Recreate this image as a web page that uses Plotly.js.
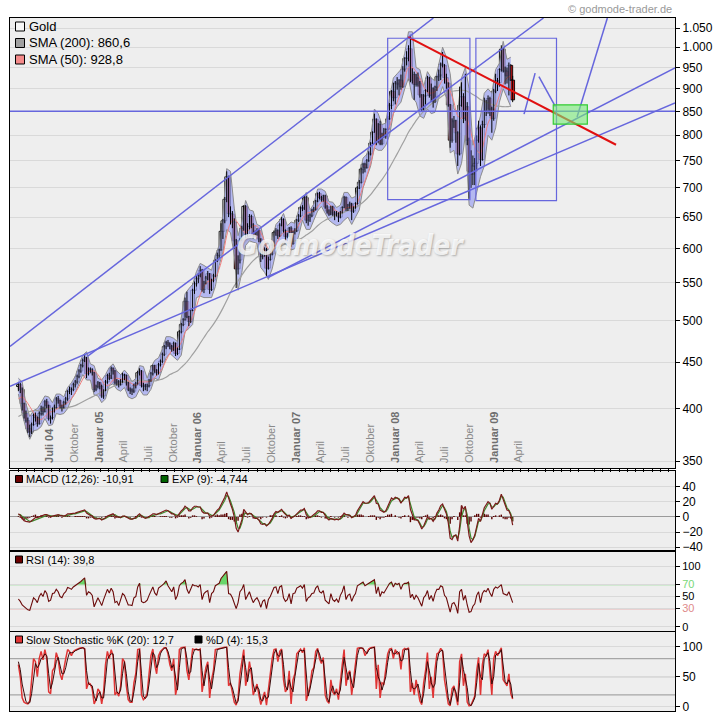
<!DOCTYPE html>
<html><head><meta charset="utf-8">
<script src="https://cdn.plot.ly/plotly-3.0.1.min.js"></script>
<style>html,body{margin:0;padding:0;background:#fff}#chart{width:720px;height:721px}</style>
</head><body><div id="chart"></div>
<script>
// ---------- DATA (weekly, starting Friday 2004-04-02) ----------
const startDate = '2004-04-02';
const open = [
423,425,420,405,395,388,380,377,384,393, 391,385,395,400,397,407,403,390,391,400,
401,410,408,403,401,406,410,418,420,420, 425,428,434,440,446,452,455,437,442,441,
438,420,423,427,423,413,419,428,435,432, 443,440,427,428,425,428,436,435,427,420,
419,418,424,426,438,440,424,423,423,424, 430,437,446,441,438,447,451,459,468,473,
471,468,465,472,460,465,486,495,501,525, 505,499,513,540,549,556,561,568,541,550,
557,563,541,554,560,582,590,598,627,644, 680,720,656,655,642,612,570,583,613,632,
668,622,635,651,637,620,625,628,615,588, 595,599,571,584,592,605,625,628,620,637,
646,628,619,621,632,608,626,628,645,652, 666,664,683,645,650,653,661,663,677,690,
683,680,686,667,660,655,667,657,654,656, 650,658,666,683,664,670,672,660,667,673,
700,710,734,743,737,750,763,784,806,833, 787,822,783,800,798,812,834,863,894,880,
913,911,920,905,946,972,973,996,920,933, 910,925,913,886,855,884,896,925,885,900,
872,904,928,932,958,955,926,913,864,790, 828,830,805,763,863,882,835,860,790,730,
725,740,745,790,815,752,822,850,850,878, 855,835,895,919,914,945,995,943,940,930,
955,920];
const high = [
428,427,422,406,398,391,384,386,395,396, 392,397,403,402,409,410,404,393,401,404,
412,413,409,404,408,412,419,423,422,427, 430,436,442,448,454,458,456,444,444,443,
439,425,429,428,425,420,430,437,438,445, 444,441,431,430,431,438,437,436,428,422,
421,426,428,440,443,441,427,426,426,431, 439,447,447,442,449,453,461,470,475,476,
473,470,474,473,467,488,497,503,530,538, 506,515,542,552,560,564,574,570,553,560,
567,564,556,563,584,594,600,640,647,684, 730,722,668,660,648,615,590,616,636,670,
670,640,655,654,640,628,632,630,616,600, 602,601,588,596,608,628,632,630,640,650,
648,630,624,634,635,628,632,647,655,668, 670,686,686,654,656,664,667,679,692,693,
686,688,688,670,663,669,669,660,660,658, 660,668,686,685,672,676,674,668,675,703,
714,737,746,746,753,768,786,808,845,835, 825,830,805,815,814,840,868,897,914,918,
927,922,933,953,975,990,1005,1032,948,940, 935,938,918,888,888,899,930,928,912,903,
907,930,945,962,988,958,935,915,866,835, 840,832,808,905,915,890,935,870,795,770,
760,755,800,830,820,830,880,875,885,882, 860,900,935,925,948,1005,998,952,950,962,
958,930];
const low = [
418,416,398,390,386,376,372,375,383,387, 382,384,393,393,396,400,388,385,389,396,
400,405,400,397,400,404,408,415,414,418, 422,426,432,438,444,450,432,435,438,435,
417,418,421,420,411,410,418,426,430,431, 436,425,424,422,424,427,430,424,418,415,
414,416,421,425,435,422,418,419,418,422, 428,435,438,435,436,445,449,457,465,468,
465,462,463,457,458,464,484,493,500,503, 493,497,512,535,545,550,558,538,536,548,
554,535,539,551,558,580,586,597,615,640, 675,650,638,632,600,543,562,578,610,628,
615,618,630,632,615,618,620,610,580,584, 588,560,569,582,590,603,620,615,618,635,
625,612,616,618,603,606,622,626,642,650, 660,662,640,636,642,650,658,661,675,680,
676,676,664,656,652,653,652,645,651,642, 648,656,665,660,660,664,645,657,664,671,
698,708,726,728,735,748,760,782,805,780, 785,780,780,795,793,810,832,855,872,865,
898,885,898,902,940,955,965,915,912,875, 905,905,880,850,852,865,892,880,870,858,
868,895,918,920,950,912,900,860,775,785, 815,785,740,760,860,825,830,780,681,700,
705,705,730,785,740,750,815,840,845,840, 805,830,890,895,905,940,938,910,912,885,
918,870];
const close = [
425,420,405,395,388,380,377,384,393,391, 385,395,400,397,407,403,390,391,400,401,
410,408,403,401,406,410,418,420,420,425, 428,434,440,446,452,455,437,442,441,438,
420,423,427,423,413,419,428,435,432,443, 440,427,428,425,428,436,435,427,420,419,
418,424,426,438,440,424,423,423,424,430, 437,446,441,438,447,451,459,468,473,471,
468,465,472,460,465,486,495,501,525,505, 499,513,540,549,556,561,568,541,550,557,
563,541,554,560,582,590,598,627,644,680, 720,656,655,642,612,570,583,613,632,668,
622,635,651,637,620,625,628,615,588,595, 599,571,584,592,605,625,628,620,637,646,
628,619,621,632,608,626,628,645,652,666, 664,683,645,650,653,661,663,677,690,683,
680,686,667,660,655,667,657,654,656,650, 658,666,683,664,670,672,660,667,673,700,
710,734,743,737,750,763,784,806,833,787, 822,783,800,798,812,834,863,894,880,913,
911,920,905,946,972,973,996,920,933,910, 925,913,886,855,884,896,925,885,900,872,
904,928,932,958,955,926,913,864,790,828, 830,805,763,863,882,835,860,790,730,725,
740,745,790,815,752,822,850,850,878,855, 835,895,919,914,945,995,943,940,930,955,
920,875];
// every second week
const sma50 = [
410,412,408,402,396,390,389,392,396,397, 399,402,404,406,410,416,423,431,437,440,
440,436,430,424,425,430,432,431,431,429, 426,424,428,428,428,429,433,437,443,452,
460,466,467,473,485,494,505,518,534,545, 552,553,558,570,590,620,640,646,640,630,
625,630,636,635,625,612,600,598,606,618, 625,627,627,628,637,648,656,658,660,667,
675,677,672,665,660,657,663,666,667,669, 682,702,722,745,775,795,800,805,818,845,
870,893,920,950,950,940,925,905,892,890, 893,905,920,925,895,870,840,835,840,820,
790,770,765,790,825,840,860,885,910,925, 930];
const sma200 = [
392,394,396,397,398,398,399,400,400,400, 400,400,400,401,402,403,405,407,409,411,
413,415,417,419,421,423,425,427,428,429, 429,429,430,430,429,429,429,430,431,433,
436,438,440,444,448,453,459,465,472,479, 486,492,499,507,516,526,537,546,553,561,
569,576,582,587,591,594,596,598,601,603, 606,608,610,612,614,617,621,625,630,636,
641,645,648,651,653,655,658,661,663,666, 670,675,681,688,697,706,715,725,737,750,
763,777,791,806,818,830,841,850,858,866, 872,878,884,890,893,895,896,897,896,892,
887,882,876,872,868,865,862,861,860,860, 861];
const bandHi = [
432,428,405,392,398,400,406,413,412,406, 415,415,412,422,427,434,447,458,462,448,
446,432,430,436,444,448,440,436,441,436, 428,432,446,445,432,444,452,455,465,480,
480,478,474,502,535,542,548,566,578,575, 572,568,590,605,655,735,730,665,620,642,
678,662,660,638,635,608,595,614,638,645, 656,636,642,640,662,678,692,662,672,698,
698,694,676,675,666,670,692,692,682,685, 722,755,762,795,855,845,822,825,880,925,
935,945,985,1040,1040,950,945,905,940,925, 918,955,1000,975,935,855,850,925,950,900,
780,810,840,890,900,890,945,960,1015,970, 975];
const bandLo = [
415,395,380,370,378,379,382,390,383,384, 395,394,395,400,410,416,426,436,430,430,
414,413,406,410,424,426,420,418,422,412, 410,412,420,414,414,420,432,430,442,455,
460,456,452,458,486,490,495,530,532,530, 530,530,545,575,595,630,625,590,540,565,
605,612,610,608,572,565,555,570,595,605, 610,605,598,600,620,645,630,630,645,660,
668,655,645,640,636,638,645,650,638,650, 662,700,720,740,775,770,770,780,800,845,
860,870,900,925,880,870,840,835,855,845, 848,880,905,880,765,770,725,745,800,670,
665,690,720,740,800,790,815,870,900,880, 860];
const macd = [
4,2,-2,-5,-6,-7,-7,-5,-3,-1, -1,0,2,2,3,3,1,0,1,2, 3,3,2,1,1,2,4,4,4,4, 5,6,7,8,9,9,5,3,2,1,
-2,-3,-2,-2,-4,-3,-1,1,2,4, 4,1,0,-1,-1,1,1,0,-2,-3, -3,-2,-1,2,4,1,-1,-2,-1,0, 2,4,4,3,4,5,6,8,9,8,
6,4,4,1,1,5,8,10,14,12, 8,8,12,14,14,13,13,7,5,5, 5,1,1,2,6,9,11,16,20,26, 33,24,17,10,0,-15,-20,-12,-4,10,
6,3,5,4,0,-2,-2,-4,-9,-10, -9,-12,-10,-6,-2,4,7,6,8,10, 6,3,1,2,-2,0,1,4,7,9, 9,11,3,0,-1,1,2,5,8,8,
6,6,2,-2,-4,-2,-3,-4,-3,-4, -2,1,5,3,2,2,-1,0,2,8, 12,17,20,18,18,19,22,25,28,18, 17,9,8,6,8,13,19,25,23,26,
25,23,18,22,26,25,28,10,4,-4, -4,-5,-10,-16,-12,-7,0,-3,-2,-6, -2,5,9,15,17,10,4,-8,-28,-30,
-25,-24,-32,-12,15,10,14,-6,-25,-34, -30,-24,-12,-2,-6,2,12,16,20,18, 10,14,18,17,22,30,24,16,9,8, 2,-11];
const signal = [
3,3,1,-1,-3,-5,-6,-6,-5,-4, -2,-1,0,1,2,2,2,1,1,1, 2,2,2,2,1,1,2,3,4,4, 4,5,6,7,8,8,7,5,3,2,
0,-2,-2,-2,-3,-3,-2,0,1,2, 3,3,1,0,-1,0,1,0,-1,-2, -3,-2,-2,0,2,2,0,-1,-1,-1, 1,2,3,3,4,4,5,7,8,8,
7,5,4,3,2,3,6,8,11,12, 10,9,10,12,13,13,13,10,7,5, 5,3,2,2,4,6,9,13,17,22, 28,27,21,14,6,-6,-15,-15,-8,3,
5,4,4,4,2,0,-1,-3,-6,-9, -9,-11,-10,-8,-4,1,5,6,7,8, 7,5,2,2,0,0,1,3,5,7, 8,10,6,2,0,0,1,3,6,7,
7,6,4,0,-2,-3,-3,-3,-3,-3, -3,-1,2,3,3,2,0,0,1,5, 9,14,18,18,18,18,20,23,26,22, 18,12,9,7,7,10,16,21,23,24,
25,24,20,21,24,25,26,17,8,0, -3,-4,-8,-13,-13,-9,-3,-2,-2,-4, -3,2,7,12,15,12,7,-3,-19,-27,
-26,-24,-28,-18,0,8,12,3,-15,-28, -30,-26,-16,-6,-5,0,8,13,17,18, 13,13,16,17,20,27,26,19,12,9, 4,-5];
const hist = [
1,-1,-3,-4,-3,-2,-1,1,2,3, 1,1,2,1,1,1,-1,-1,0,1, 1,1,0,-1,0,1,2,1,0,0, 1,1,1,1,1,1,-2,-2,-1,-1,
-2,-1,0,0,-1,0,1,1,1,2, 1,-2,-1,-1,0,1,0,0,-1,-1, 0,0,1,2,2,-1,-1,-1,0,1, 1,2,1,0,0,1,1,1,1,0,
-1,-1,0,-2,-1,2,2,2,3,0, -2,-1,2,2,1,0,0,-3,-2,0, 0,-2,-1,0,2,3,2,3,3,4, 5,-3,-4,-4,-6,-9,-5,3,4,7,
1,-1,1,0,-2,-2,-1,-1,-3,-1, 0,-1,0,2,2,3,2,0,1,2, -1,-2,-1,0,-2,0,0,1,2,2, 1,1,-3,-2,-1,1,1,2,2,1,
-1,0,-2,-2,-2,1,0,-1,0,-1, 1,2,3,0,-1,0,-1,0,1,3, 3,3,2,0,0,1,2,2,2,-4, -1,-3,-1,-1,1,3,3,4,0,2,
0,-1,-2,1,2,0,2,-7,-4,-4, -1,-1,-2,-3,1,2,3,-1,0,-2, 1,3,2,3,2,-2,-3,-5,-9,-3,
1,0,-4,6,15,2,2,-9,-10,-6, 0,2,4,4,-1,2,4,3,3,0, -3,1,2,0,2,3,-2,-3,-3,-1, -2,-6];
const rsi = [
46,42,36,33,30,28,27,38,48,45, 40,50,55,50,60,55,42,44,55,56, 62,58,50,48,55,58,65,64,62,66, 68,70,72,75,78,81,52,58,56,52,
33,40,48,42,35,45,55,62,56,64, 58,40,42,35,45,55,52,42,36,36, 35,48,50,66,72,42,40,41,44,52, 60,66,56,52,64,66,69,72,76,68,
62,58,66,45,52,68,72,74,78,62, 55,64,70,68,68,66,70,45,55,58, 60,40,55,58,68,70,72,80,84,88, 92,55,54,48,38,30,40,58,62,70,
45,52,58,48,40,45,48,42,32,42, 45,30,45,50,58,65,66,55,66,68, 48,42,45,55,38,55,56,64,66,68, 64,70,42,48,50,55,56,64,68,58,
56,60,44,40,38,55,45,42,46,40, 52,58,68,45,52,54,42,50,55,68, 70,72,74,68,70,72,74,76,78,55, 66,50,58,56,62,68,72,74,66,72,
70,72,62,70,72,72,74,48,54,45, 52,48,40,34,48,52,60,45,52,42, 55,62,62,68,66,52,48,34,24,38,
40,34,22,58,62,44,52,36,24,25, 34,38,52,58,40,55,60,58,64,56, 50,62,66,64,68,70,55,54,52,58, 48,40];
const stochK = [
70,50,15,8,6,5,10,45,80,75, 50,80,92,78,95,80,25,22,60,65, 90,80,55,45,65,80,95,92,85,92, 94,96,97,98,98,96,30,40,38,30,
5,12,30,25,5,25,70,92,80,95, 85,20,25,18,35,80,75,35,12,8, 8,40,55,95,96,20,12,15,22,55, 85,96,70,55,85,92,96,98,98,88,
70,60,80,20,35,95,98,98,99,60, 45,70,96,95,96,94,96,25,45,65, 75,15,45,60,95,96,97,98,98,99, 99,35,40,25,8,3,15,55,75,95,
35,50,75,55,20,30,38,20,4,15, 25,3,30,50,80,95,96,75,92,96, 45,25,30,60,5,45,55,88,92,96, 90,98,10,25,35,60,65,92,97,80,
72,82,20,10,6,45,25,20,30,12, 45,70,95,35,55,60,20,45,70,97, 98,98,97,85,92,96,98,99,99,30, 70,15,40,38,60,88,96,97,80,95,
88,90,62,94,97,95,98,25,40,20, 45,30,10,4,40,60,90,30,50,15, 62,88,90,97,92,45,25,5,2,30,
35,15,3,75,88,35,55,8,2,3, 12,18,60,82,20,70,88,85,95,55, 20,80,92,85,93,98,45,40,35,55, 22,13];
const stochD = [
75,62,38,20,9,6,7,22,50,72, 65,70,80,82,88,85,55,30,40,55, 75,82,70,55,55,65,80,90,90,90, 93,95,96,97,98,97,60,38,37,35,
18,10,20,25,15,15,45,78,85,88, 88,55,25,22,28,55,75,55,25,10, 9,25,45,75,95,55,18,14,18,38, 70,90,85,65,72,88,94,97,98,92,
80,65,70,50,28,65,96,98,98,80, 55,58,85,95,95,95,95,60,35,55, 70,45,30,52,78,95,96,97,98,98, 99,65,38,32,16,6,9,35,65,85,
65,42,62,65,38,25,34,29,12,10, 20,14,16,40,65,88,95,85,84,94, 70,35,28,45,32,25,50,72,90,94, 93,94,55,18,30,48,62,78,95,88,
76,77,50,15,8,25,35,22,25,20, 28,58,82,65,45,58,40,32,58,85, 97,98,97,92,88,94,97,98,99,65, 50,42,28,39,50,74,92,96,88,88,
92,89,76,78,95,96,96,60,32,30, 32,38,20,7,22,50,75,60,40,32, 38,75,89,93,94,68,35,15,4,16,
32,25,9,40,82,62,45,32,5,2, 8,15,40,72,50,45,80,86,90,75, 38,50,86,88,89,95,70,42,38,45, 38,15];

// axis labels
const priceTicks = [350,400,450,500,550,600,650,700,750,800,850,900,950,1000,1050];
const priceTickText = ['350','400','450','500','550','600','650','700','750','800','850','900','950','1.000','1.050'];
const monthLabelDates = ['2004-07-22','2004-10-22','2005-01-22','2005-04-22','2005-07-22','2005-10-22','2006-01-22','2006-04-22','2006-07-22','2006-10-22',
  '2007-01-22','2007-04-22','2007-07-22','2007-10-22','2008-01-22','2008-04-22','2008-07-22','2008-10-22','2009-01-22','2009-04-22'];
const monthNames = ['Juli 04','Oktober','Januar 05','April','Juli','Oktober','Januar 06','April','Juli','Oktober',
  'Januar 07','April','Juli','Oktober','Januar 08','April','Juli','Oktober','Januar 09','April'];

// drawn analysis lines: [date, price] pairs
const blueLines = [
  {x:['2004-03-02','2008-06-14'], y:[468.3,1077]},
  {x:['2004-12-13','2009-07-26'], y:[456.6,1077]},
  {x:['2004-03-02','2010-11-24'], y:[423.2,868.5]},
  {x:['2006-10-12','2010-11-24'], y:[557.7,949]},
  {x:['2004-03-02','2010-11-24'], y:[850,850]},
  {x:['2009-05-15','2009-06-25'], y:[844,936.4]},
  {x:['2009-07-09','2009-09-08'], y:[928.3,860.4]},
  {x:['2009-11-27','2010-03-19'], y:[837.7,1077]}
];
const redLine = {x:['2008-03-13','2010-04-20'], y:[1025.7,780.9]};
const boxes = [
  {x0:'2007-12-28', x1:'2008-10-27', y0:679.5, y1:1023},
  {x0:'2008-11-18', x1:'2009-09-12', y0:677.7, y1:1023}
];
const targetBox = {x0:'2009-08-31', x1:'2010-01-04', y0:822.9, y1:864.2};

// ---------- BUILD ----------
function weekDates(n, step){
  const out=[]; const d0=Date.parse(startDate+'T00:00:00Z');
  for(let i=0;i<n;i+=step){ out.push(new Date(d0+i*7*86400000).toISOString().slice(0,10)); }
  return out;
}
const dates = weekDates(close.length,1);
const dates2 = weekDates(close.length,2);

const upX=[],upBase=[],upLen=[],dnX=[],dnBase=[],dnLen=[],wickX=[],wickY=[];
close.forEach((c,i)=>{
  const o=open[i];
  if(c>=o){upX.push(dates[i]);upBase.push(o);upLen.push(Math.max(c-o,1.5));}
  else{dnX.push(dates[i]);dnBase.push(c);dnLen.push(o-c);}
  wickX.push(dates[i],dates[i],null); wickY.push(low[i],high[i],null);
});
const candleW = 14*86400000;

const L=10,R=675,T=18,B=711;
const px = x => (x-L)/(R-L);
const py = y => (B-y)/(B-T);

const FONT = 'Liberation Sans, Arial, sans-serif';
const traces = [];
traces.push({type:'scatter',mode:'lines',x:dates2,y:bandLo,line:{color:'#8c8c8c',width:1},hoverinfo:'skip',xaxis:'x',yaxis:'y'});
traces.push({type:'scatter',mode:'lines',x:dates2,y:bandHi,fill:'tonexty',fillcolor:'rgba(160,165,240,0.75)',line:{color:'#8c8c8c',width:1},hoverinfo:'skip',xaxis:'x',yaxis:'y'});
traces.push({type:'scatter',mode:'lines',x:dates2,y:sma200,line:{color:'#a0a0a0',width:1.2,shape:'spline'},xaxis:'x',yaxis:'y'});
traces.push({type:'scatter',mode:'lines',x:dates2,y:sma50,line:{color:'#f08080',width:1,shape:'spline'},xaxis:'x',yaxis:'y'});
traces.push({type:'scatter',mode:'lines',x:wickX,y:wickY,line:{color:'#000',width:1},xaxis:'x',yaxis:'y',connectgaps:false});
traces.push({type:'bar',x:upX,base:upBase,y:upLen,width:candleW,marker:{color:'#ffffff',line:{color:'#000',width:0.9}},xaxis:'x',yaxis:'y'});
traces.push({type:'bar',x:dnX,base:dnBase,y:dnLen,width:candleW,marker:{color:'#d81818',line:{color:'#000',width:0.9}},xaxis:'x',yaxis:'y'});
blueLines.forEach(l=>traces.push({type:'scatter',mode:'lines',x:l.x,y:l.y,line:{color:'#6666dd',width:1.5},xaxis:'x',yaxis:'y'}));
traces.push({type:'scatter',mode:'lines',x:redLine.x,y:redLine.y,line:{color:'#e01010',width:2},xaxis:'x',yaxis:'y'});
traces.push({type:'bar',x:dates,y:hist,marker:{color:'#5a0000'},xaxis:'x2',yaxis:'y2'});
traces.push({type:'scatter',mode:'lines',x:dates,y:signal,line:{color:'#3f8a2e',width:1.2},xaxis:'x2',yaxis:'y2'});
traces.push({type:'scatter',mode:'lines',x:dates,y:macd,line:{color:'#7a1a1a',width:1.2},xaxis:'x2',yaxis:'y2'});
traces.push({type:'scatter',mode:'lines',x:dates,y:rsi.map(()=>70),line:{width:0},xaxis:'x3',yaxis:'y3',hoverinfo:'skip'});
traces.push({type:'scatter',mode:'lines',x:dates,y:rsi.map(v=>Math.max(v,70)),fill:'tonexty',fillcolor:'#6ad66a',line:{width:0},xaxis:'x3',yaxis:'y3',hoverinfo:'skip'});
traces.push({type:'scatter',mode:'lines',x:dates,y:rsi,line:{color:'#6b0a0a',width:1.1},xaxis:'x3',yaxis:'y3'});
traces.push({type:'scatter',mode:'lines',x:dates,y:stochK,line:{color:'#e03535',width:1.5},xaxis:'x4',yaxis:'y4'});
traces.push({type:'scatter',mode:'lines',x:dates,y:stochD,line:{color:'#3a0a0a',width:1},xaxis:'x4',yaxis:'y4'});

const frame = {showline:true,mirror:true,linecolor:'#000',linewidth:1};
const xsub = Object.assign({type:'date',matches:'x',showticklabels:false,ticks:'',showgrid:false,zeroline:false,fixedrange:true},frame);
const yfont = {size:12,color:'#000',family:FONT};
const shapes = [];
boxes.forEach(b=>shapes.push({type:'rect',xref:'x',yref:'y',x0:b.x0,x1:b.x1,y0:b.y0,y1:b.y1,line:{color:'#6666dd',width:1.2},fillcolor:'rgba(0,0,0,0)'}));
shapes.push({type:'rect',xref:'x',yref:'y',x0:targetBox.x0,x1:targetBox.x1,y0:targetBox.y0,y1:targetBox.y1,line:{color:'#33cc33',width:1.2},fillcolor:'rgba(120,235,120,0.6)'});
shapes.push({type:'line',xref:'x3 domain',yref:'y3',x0:0,x1:1,y0:70,y1:70,line:{color:'#7ddc7d',width:1.3},layer:'below'});
shapes.push({type:'line',xref:'x3 domain',yref:'y3',x0:0,x1:1,y0:30,y1:30,line:{color:'#e07a7a',width:1.3},layer:'below'});
[20,50,80].forEach(v=>shapes.push({type:'line',xref:'x4 domain',yref:'y4',x0:0,x1:1,y0:v,y1:v,line:{color:'#a6a6a6',width:1.2},layer:'below'}));
function sq(x0,x1,yc,s,color){shapes.push({type:'rect',xref:'paper',yref:'paper',x0:px(x0),x1:px(x1),y0:py(yc+s/2),y1:py(yc-s/2),line:{color:'#000',width:1},fillcolor:color});}
sq(15.5,24.5,26.5,9,'#f6f6f6'); sq(15.5,24.5,43,9,'#a0a0a0'); sq(15.5,24.5,59.5,9,'#f58a8a');
sq(15.5,22.5,479,7,'#6b0000'); sq(161,168,479,7,'#006400');
sq(15.5,22.5,559.5,7,'#6b0000');
sq(15.5,22.5,639.5,7,'#e03535'); sq(195,202,639.5,7,'#000');

const annotations = [];
function txt(x,y,t,size,color,xa){annotations.push({xref:'paper',yref:'paper',x:px(x),y:py(y),text:t,showarrow:false,xanchor:xa||'left',yanchor:'middle',font:{family:FONT,size:size,color:color||'#000'},borderpad:0});}
txt(28,26.5,'Gold',13); txt(28,43,'SMA (200): 860,6',13); txt(28,59.5,'SMA (50): 928,8',13);
txt(25,479,'MACD (12,26): -10,91',11); txt(170.5,479,'EXP (9): -4,744',11);
txt(25,559.5,'RSI (14): 39,8',11);
txt(25,639.5,'Slow Stochastic %K (20): 12,7',11); txt(204.5,639.5,'%D (4): 15,3',11);
txt(673,9,'© godmode-trader.de',11,'#9a9a9a','right');
annotations.push({xref:'paper',yref:'paper',x:px(350),y:py(246),xanchor:'center',yanchor:'middle',text:'<b><i>GodmodeTrader</i></b>',showarrow:false,
  font:{family:'Liberation Sans Narrow, DejaVu Sans Condensed, Liberation Sans, sans-serif',size:28,color:'rgba(255,255,255,0.8)',shadow:'1px 1px 2px rgba(90,90,90,0.55)'}});
monthNames.forEach((n,i)=>{
  const major = /\d/.test(n);
  annotations.push({xref:'x',yref:'y domain',x:monthLabelDates[i],y:0,yshift:4,xanchor:'center',yanchor:'bottom',textangle:-90,showarrow:false,borderpad:0,
    text:major?'<b>'+n+'</b>':n,font:{family:FONT,size:11,color:major?'#6e6e6e':'#8a8a8a'}});
});

const layout = {
  width:720,height:721,margin:{l:L,r:720-R,t:T,b:721-B,pad:0},
  paper_bgcolor:'#ffffff',plot_bgcolor:'#eeeeee',showlegend:false,hovermode:false,bargap:0.25,barmode:'overlay',
  font:{family:FONT,size:12,color:'#000'},
  xaxis:Object.assign({domain:[0,1],anchor:'y',type:'date',range:['2004-03-02','2010-11-24'],showgrid:false,zeroline:false,fixedrange:true,
    rangeslider:{visible:false},showticklabels:false,ticks:'',
    minor:{dtick:'M1',tick0:'2004-01-01',ticks:'outside',ticklen:3,tickcolor:'#000',showgrid:false}},frame),
  yaxis:Object.assign({domain:[py(468),1],anchor:'x',type:'log',side:'right',range:[2.5366,3.0322],tickmode:'array',
    tickvals:priceTicks,ticktext:priceTickText,ticks:'outside',ticklen:4,tickcolor:'#000',gridcolor:'#d9d9d9',zeroline:false,tickfont:yfont,fixedrange:true},frame),
  xaxis2:Object.assign({anchor:'y2'},xsub),
  yaxis2:Object.assign({domain:[py(551),py(471)],anchor:'x2',side:'right',range:[-45,60.5],tickmode:'array',tickvals:[-40,-20,0,20,40],
    ticks:'outside',ticklen:4,tickcolor:'#000',gridcolor:'#d9d9d9',zeroline:true,zerolinecolor:'#9a9a9a',zerolinewidth:1,tickfont:yfont,fixedrange:true},frame),
  xaxis3:Object.assign({anchor:'y3'},xsub),
  yaxis3:Object.assign({domain:[py(631),py(551)],anchor:'x3',side:'right',range:[-7.2,125.7],tickmode:'array',tickvals:[0,30,50,70,100],
    ticktext:['0','<span style="color:#e08a8a">30</span>','50','<span style="color:#78d878">70</span>','100'],
    ticks:'outside',ticklen:4,tickcolor:'#000',gridcolor:'#d9d9d9',zeroline:false,tickfont:{size:11,color:'#000',family:FONT},fixedrange:true},frame),
  xaxis4:Object.assign({anchor:'y4'},xsub),
  yaxis4:Object.assign({domain:[0,py(631.5)],anchor:'x4',side:'right',range:[-6.7,125],tickmode:'array',tickvals:[0,50,100],
    ticks:'outside',ticklen:4,tickcolor:'#000',gridcolor:'#d9d9d9',zeroline:false,tickfont:yfont,fixedrange:true},frame),
  shapes:shapes,annotations:annotations
};
Plotly.newPlot('chart',traces,layout,{staticPlot:true,displayModeBar:false});
</script></body></html>
